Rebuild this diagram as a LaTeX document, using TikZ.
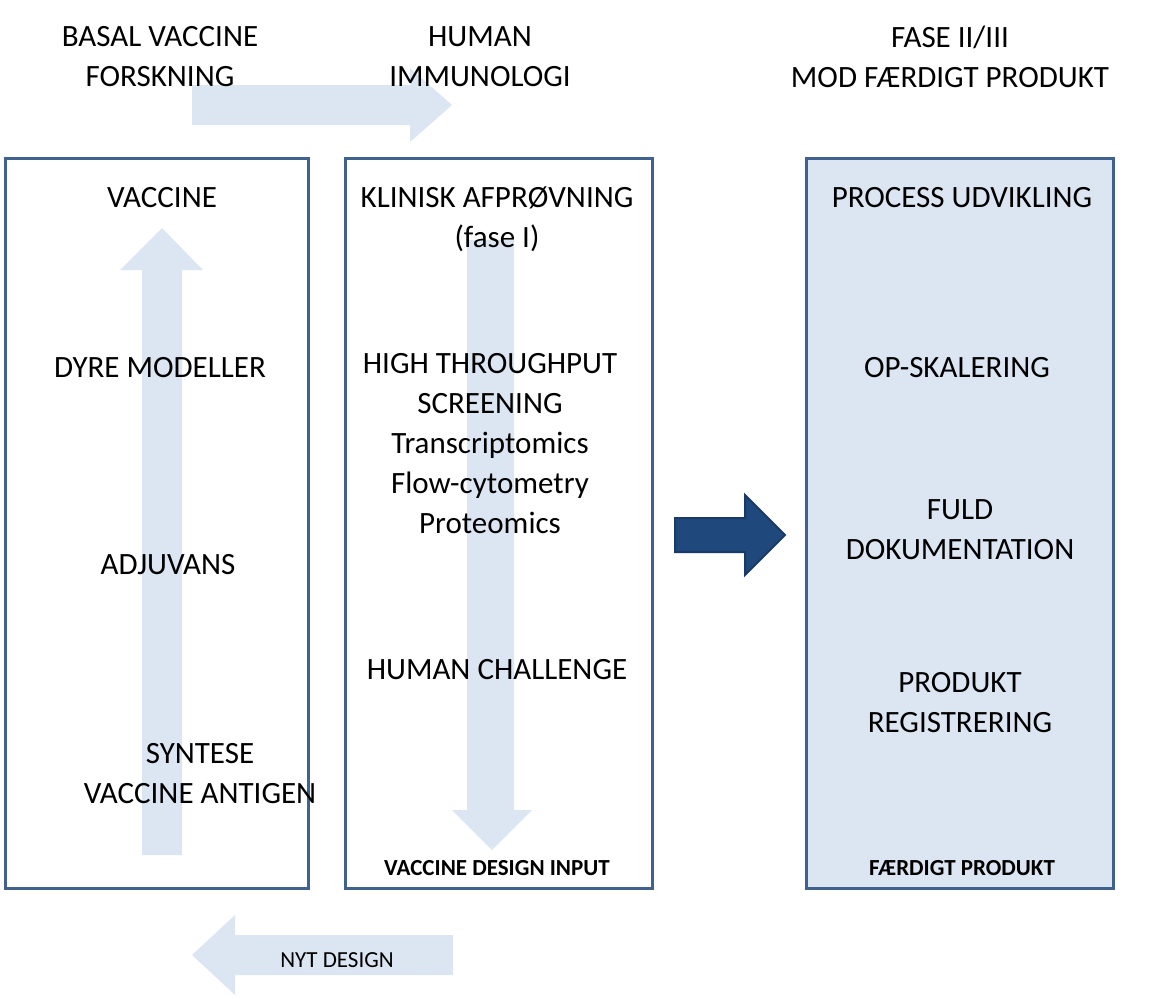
\documentclass[tikz,border=0pt]{standalone}
\usepackage{fontspec}
\setmainfont{Carlito}
\usetikzlibrary{calc}
\definecolor{boxblue}{RGB}{65,98,142}
\definecolor{paleblue}{RGB}{220,230,242}
\definecolor{darkblue}{RGB}{31,73,125}
\tikzset{
  txt/.style={align=center,font=\fontsize{15.5}{20}\selectfont},
  small/.style={align=center,font=\fontsize{11.5}{14}\selectfont},
  smallbold/.style={align=center,font=\bfseries\fontsize{11.5}{14}\selectfont},
  frame/.style={draw=boxblue,line width=1.5pt}
}
\begin{document}
\begin{tikzpicture}[x=0.5pt,y=-0.5pt]
\useasboundingbox (0,0) rectangle (1169,997);

%Boxes
\draw [frame] (5,158) rectangle (308,888);
\draw [frame] (345,158) rectangle (652,888);
\draw [frame,fill=paleblue] (806,158) rectangle (1113,888);

%Pale arrows
\fill [paleblue] (192,85) -- (410,85) -- (410,68) -- (452,105) -- (410,142) -- (410,125) -- (192,125) -- cycle;
\fill [paleblue] (142,855) -- (142,270) -- (120,270) -- (162,228) -- (203,270) -- (182,270) -- (182,855) -- cycle;
\fill [paleblue] (467,240) -- (467,810) -- (452,810) -- (492,850) -- (532,810) -- (514,810) -- (514,240) -- cycle;
\fill [paleblue] (453,935) -- (235,935) -- (235,915) -- (192,955) -- (235,995) -- (235,975) -- (453,975) -- cycle;

%Dark arrow
\draw [draw=darkblue!80!black,fill=darkblue,line width=1pt] (675,518) -- (745,518) -- (745,495) -- (785,535) -- (745,575) -- (745,552) -- (675,552) -- cycle;

%Titles
\node [txt] (basal) at (160,57) {BASAL VACCINE\\FORSKNING};
\node [txt] (human) at (480,57) {HUMAN\\IMMUNOLOGI};
\node [txt] (fase) at (950,57) {FASE II/III\\MOD FÆRDIGT PRODUKT};

%Left box
\node [txt] (vaccine) at (162,198) {VACCINE};
\node [txt] (dyre) at (160,368) {DYRE MODELLER};
\node [txt] (adjuvans) at (168,565) {ADJUVANS};
\node [txt] (syntese) at (200,774) {SYNTESE\\VACCINE ANTIGEN};

%Middle box
\node [txt] (klinisk) at (497,219) {KLINISK AFPRØVNING\\(fase I)};
\node [txt] (high) at (490,444) {HIGH THROUGHPUT\\SCREENING\\Transcriptomics\\Flow-cytometry\\Proteomics};
\node [txt] (challenge) at (497,670) {HUMAN CHALLENGE};
\node [smallbold] (input) at (497,868) {VACCINE DESIGN INPUT};

%Right box
\node [txt] (process) at (962,198) {PROCESS UDVIKLING};
\node [txt] (skalering) at (957,368) {OP-SKALERING};
\node [txt] (fuld) at (960,530) {FULD\\DOKUMENTATION};
\node [txt] (produkt) at (960,703) {PRODUKT\\REGISTRERING};
\node [smallbold] (faerdigt) at (962,868) {FÆRDIGT PRODUKT};

\node [small] (nyt) at (337,960) {NYT DESIGN};
\end{tikzpicture}
\end{document}
